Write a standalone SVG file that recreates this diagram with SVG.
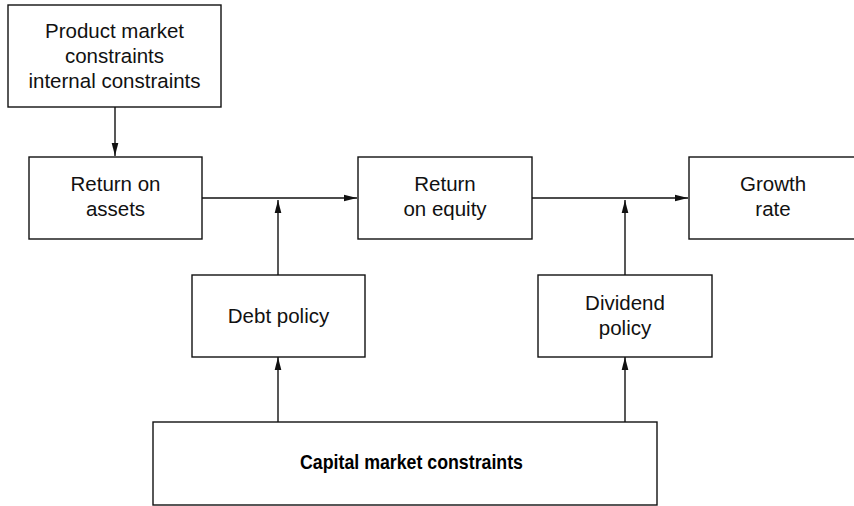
<svg xmlns="http://www.w3.org/2000/svg" width="854" height="506" viewBox="0 0 854 506">
  <style>
    .box { fill: #ffffff; stroke: #111111; stroke-width: 1.4; }
    .lbl { font-family: "Liberation Sans", Arial, sans-serif; font-size: 20.5px; fill: #111111; text-anchor: middle; }
    .bold { font-weight: bold; font-size: 21px; fill: #000; }
    .edge { fill: none; stroke: #111111; stroke-width: 1.4; }
  </style>
  <defs>
    <marker id="arrow" markerWidth="14" markerHeight="8" refX="13" refY="4" orient="auto" markerUnits="userSpaceOnUse">
      <path d="M0,0.7 L13,4 L0,7.3 Z" fill="#111111"/>
    </marker>
  </defs>
  <rect width="854" height="506" fill="#ffffff"/>

  <g id="connectors">
    <line class="edge" x1="115" y1="107" x2="115" y2="156" marker-end="url(#arrow)"/>
    <line class="edge" x1="202" y1="198" x2="357" y2="198" marker-end="url(#arrow)"/>
    <line class="edge" x1="532" y1="198" x2="688" y2="198" marker-end="url(#arrow)"/>
    <line class="edge" x1="278" y1="275" x2="278" y2="200" marker-end="url(#arrow)"/>
    <line class="edge" x1="625" y1="275" x2="625" y2="200" marker-end="url(#arrow)"/>
    <line class="edge" x1="278" y1="422" x2="278" y2="357" marker-end="url(#arrow)"/>
    <line class="edge" x1="625" y1="422" x2="625" y2="357" marker-end="url(#arrow)"/>
  </g>

  <g id="product-market">
    <rect class="box" x="8" y="5" width="213" height="102"/>
    <text class="lbl" x="114.5" y="38">Product market</text>
    <text class="lbl" x="114.5" y="63">constraints</text>
    <text class="lbl" x="114.5" y="88">internal constraints</text>
  </g>

  <g id="return-on-assets">
    <rect class="box" x="29" y="157" width="173" height="82"/>
    <text class="lbl" x="115.5" y="191">Return on</text>
    <text class="lbl" x="115.5" y="216">assets</text>
  </g>

  <g id="return-on-equity">
    <rect class="box" x="358" y="157" width="174" height="82"/>
    <text class="lbl" x="445" y="191">Return</text>
    <text class="lbl" x="445" y="216">on equity</text>
  </g>

  <g id="growth-rate">
    <rect class="box" x="689" y="157" width="170" height="82"/>
    <text class="lbl" x="773" y="191">Growth</text>
    <text class="lbl" x="773" y="216">rate</text>
  </g>

  <g id="debt-policy">
    <rect class="box" x="192" y="275" width="173" height="82"/>
    <text class="lbl" x="278.5" y="323">Debt policy</text>
  </g>

  <g id="dividend-policy">
    <rect class="box" x="538" y="275" width="174" height="82"/>
    <text class="lbl" x="625" y="310">Dividend</text>
    <text class="lbl" x="625" y="335">policy</text>
  </g>

  <g id="capital-market">
    <rect class="box" x="153" y="422" width="504" height="83"/>
    <text class="lbl bold" x="411.5" y="469" textLength="223" lengthAdjust="spacingAndGlyphs">Capital market constraints</text>
  </g>
</svg>
